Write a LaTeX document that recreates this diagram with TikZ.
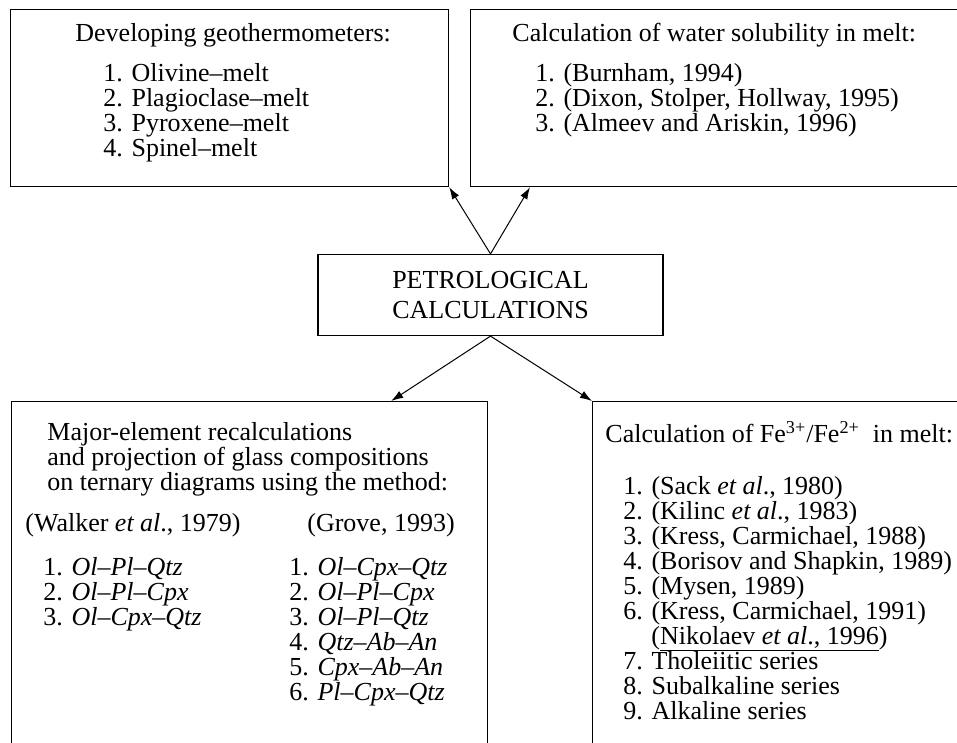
\documentclass[tikz,border=0pt]{standalone}
\usepackage{fontspec}
\setmainfont{Liberation Serif}
\usetikzlibrary{arrows.meta}

\begin{document}
\begin{tikzpicture}[x=0.5pt,y=-0.5pt,
		box/.style={draw, line width=0.6pt, inner sep=0pt, anchor=north west},
		txt/.style={inner sep=0pt, anchor=base west, align=left, font=\fontsize{13}{12.5}\selectfont},
		arr/.style={-{Latex[length=6pt,width=4pt]}, line width=0.5pt}]
		
		\path[use as bounding box, clip] (0,0) rectangle (957,743);
		
		% boxes
		\node[box, minimum width=219pt, minimum height=88.5pt] (geo) at (10,9) {};
		\node[box, minimum width=250pt, minimum height=88.5pt] (water) at (470,9) {};
		\node[box, anchor=center, minimum width=172.5pt, minimum height=40.5pt, align=center, font=\fontsize{13}{15}\selectfont] (petro) at (490.5,295) {PETROLOGICAL\\CALCULATIONS};
		\node[box, minimum width=238pt, minimum height=180pt] (major) at (11,401) {};
		\node[box, minimum width=190pt, minimum height=180pt] (fe) at (592,401) {};
		
		% texts (multi-line nodes sit on their last line)
		\node[txt] (geohead) at (75,42) {Developing geothermometers:};
		\node[txt] (geolist) at (103,157) {1. Olivine--melt\\2. Plagioclase--melt\\3. Pyroxene--melt\\4. Spinel--melt};
		\node[txt] (waterhead) at (512,42) {Calculation of water solubility in melt:};
		\node[txt] (waterlist) at (535,132) {1. (Burnham, 1994)\\2. (Dixon, Stolper, Hollway, 1995)\\3. (Almeev and Ariskin, 1996)};
		\node[txt] (majorhead) at (47,490) {Major-element recalculations\\and projection of glass compositions\\on ternary diagrams using the method:};
		\node[txt] (walker) at (25,531) {(Walker \textit{et al}., 1979)};
		\node[txt] (grove) at (307,531) {(Grove, 1993)};
		\node[txt] (walkerlist) at (43,625) {1. \textit{Ol--Pl--Qtz}\\2. \textit{Ol--Pl--Cpx}\\3. \textit{Ol--Cpx--Qtz}};
		\node[txt] (grovelist) at (289,700) {1. \textit{Ol--Cpx--Qtz}\\2. \textit{Ol--Pl--Cpx}\\3. \textit{Ol--Pl--Qtz}\\4. \textit{Qtz--Ab--An}\\5. \textit{Cpx--Ab--An}\\6. \textit{Pl--Cpx--Qtz}};
		\node[txt] (fehead) at (605,442) {Calculation of Fe\textsuperscript{3+}/Fe\textsuperscript{2+}\ \ in melt:};
		\node[txt] (felist) at (623,719) {1. (Sack \textit{et al}., 1980)\\2. (Kilinc \textit{et al}., 1983)\\3. (Kress, Carmichael, 1988)\\4. (Borisov and Shapkin, 1989)\\5. (Mysen, 1989)\\6. (Kress, Carmichael, 1991)\\\hspace{14pt}(\smash{\underline{Nikolaev \textit{et al}., 1996}})\\7. Tholeiitic series\\8. Subalkaline series\\9. Alkaline series};
		
		% arrows
		\draw[arr] (petro.north) -- (geo.south east);
		\draw[arr] (petro.north) -- ([xshift=30pt]water.south west);
		\draw[arr] (petro.south) -- ([xshift=-48.5pt]major.north east);
		\draw[arr] (petro.south) -- (fe.north west);
		
	\end{tikzpicture}
\end{document}
